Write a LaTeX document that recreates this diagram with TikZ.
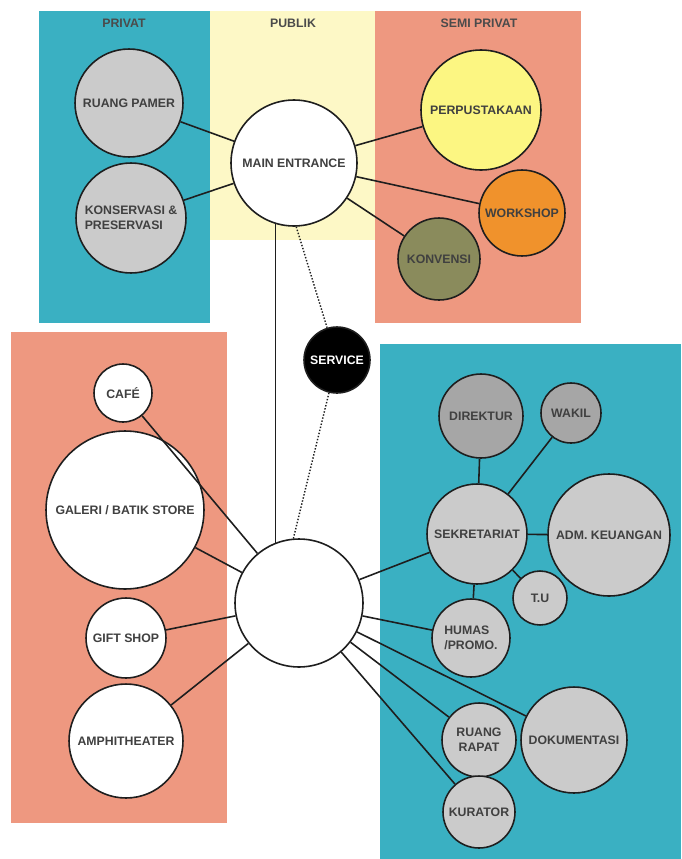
\documentclass[tikz,border=0pt]{standalone}
\usepackage{fontspec}
\setmainfont{Liberation Sans}
\usepackage{tikz}
\usetikzlibrary{arrows,positioning}
\definecolor{zteal}{RGB}{58,176,194}
\definecolor{zyellow}{RGB}{253,248,198}
\definecolor{zsalmon}{RGB}{238,152,128}
\definecolor{lgray}{RGB}{203,203,203}
\definecolor{dgray}{RGB}{166,166,166}
\definecolor{pyellow}{RGB}{252,246,130}
\definecolor{porange}{RGB}{240,146,44}
\definecolor{polive}{RGB}{138,139,92}
\definecolor{ink}{RGB}{30,30,30}
\tikzset{
  zone/.style={draw=none},
  zonelabel/.style={font=\bfseries\fontsize{7}{8}\selectfont,text=ink!80},
  room/.style={circle,draw=ink,line width=0.9pt,inner sep=0pt,
    minimum size=#1,align=center,text=ink!85,
    font=\bfseries\fontsize{7}{8.4}\selectfont},
  links/.style={every edge/.style={draw=ink,line width=0.9pt}}
}
\begin{document}
\begin{tikzpicture}[x=0.02cm,y=-0.02cm]
  \useasboundingbox (0,0) rectangle (681,859);

  % zones
  \fill[zteal] (39,11) rectangle (210,323);
  \fill[zyellow] (210,11) rectangle (375,240);
  \fill[zsalmon] (375,11) rectangle (581,323);
  \fill[zsalmon] (11,332) rectangle (227,823);
  \fill[zteal] (380,344) rectangle (681,859);
  \node[zonelabel] (lpriv) at (124,23) {PRIVAT};
  \node[zonelabel] (lpub) at (293,23) {PUBLIK};
  \node[zonelabel] (lsemi) at (479,23) {SEMI PRIVAT};

  % upper group
  \node[room=2.52cm,fill=white] (main) at (294,163) {MAIN ENTRANCE};
  \node[room=2.16cm,fill=lgray] (rpamer) at (129,103) {RUANG PAMER};
  \node[room=2.2cm,fill=lgray,align=left] (konserv) at (131,218) {KONSERVASI \&\\PRESERVASI};
  \node[room=2.4cm,fill=pyellow] (perpus) at (481,110) {PERPUSTAKAAN};
  \node[room=1.72cm,fill=porange] (workshop) at (522,213) {WORKSHOP};
  \node[room=1.64cm,fill=polive] (konvensi) at (439,259) {KONVENSI};
  \node[room=1.32cm,fill=black,text=white] (svc) at (337,360) {SERVICE};

  % hub and left group
  \node[room=2.56cm,fill=white] (hub) at (299,603) {};
  \node[room=1.16cm,fill=white] (cafe) at (123,393) {CAFÉ};
  \node[room=3.16cm,fill=white] (galeri) at (125,510) {GALERI / BATIK STORE};
  \node[room=1.6cm,fill=white] (gift) at (126,638) {GIFT SHOP};
  \node[room=2.28cm,fill=white] (amphi) at (126,741) {AMPHITHEATER};

  % right group
  \node[room=1.68cm,fill=dgray] (direktur) at (481,416) {DIREKTUR};
  \node[room=1.2cm,fill=dgray] (wakil) at (571,413) {WAKIL};
  \node[room=2.0cm,fill=lgray] (sekre) at (477,534) {SEKRETARIAT};
  \node[room=2.44cm,fill=lgray] (adm) at (609,535) {ADM. KEUANGAN};
  \node[room=1.08cm,fill=lgray] (tu) at (540,598) {T.U};
  \node[room=1.56cm,fill=lgray,align=left] (humas) at (471,638) {HUMAS\\/PROMO.};
  \node[room=2.12cm,fill=lgray] (doku) at (574,740) {DOKUMENTASI};
  \node[room=1.48cm,fill=lgray] (rapat) at (479,740) {RUANG\\RAPAT};
  \node[room=1.44cm,fill=lgray] (kurator) at (479,812) {KURATOR};

  \path[links]
  (main) edge (rpamer)
  (main) edge (konserv)
  (main) edge (perpus)
  (main) edge (workshop)
  (main) edge (konvensi)
  (main.253) edge (main.253 |- hub.112)
  (hub) edge (cafe)
  (hub) edge (galeri)
  (hub) edge (gift)
  (hub) edge (amphi)
  (hub) edge (sekre)
  (hub) edge (humas)
  (hub) edge (doku)
  (hub) edge (rapat)
  (hub) edge (kurator)
  (sekre) edge (direktur)
  (sekre) edge (wakil)
  (sekre) edge (adm)
  (sekre) edge (tu)
  (sekre) edge (humas)
  ;
  \draw[ink,densely dotted,line width=0.8pt] (main.272) -- (svc) -- (hub.95);
\end{tikzpicture}
\end{document}
